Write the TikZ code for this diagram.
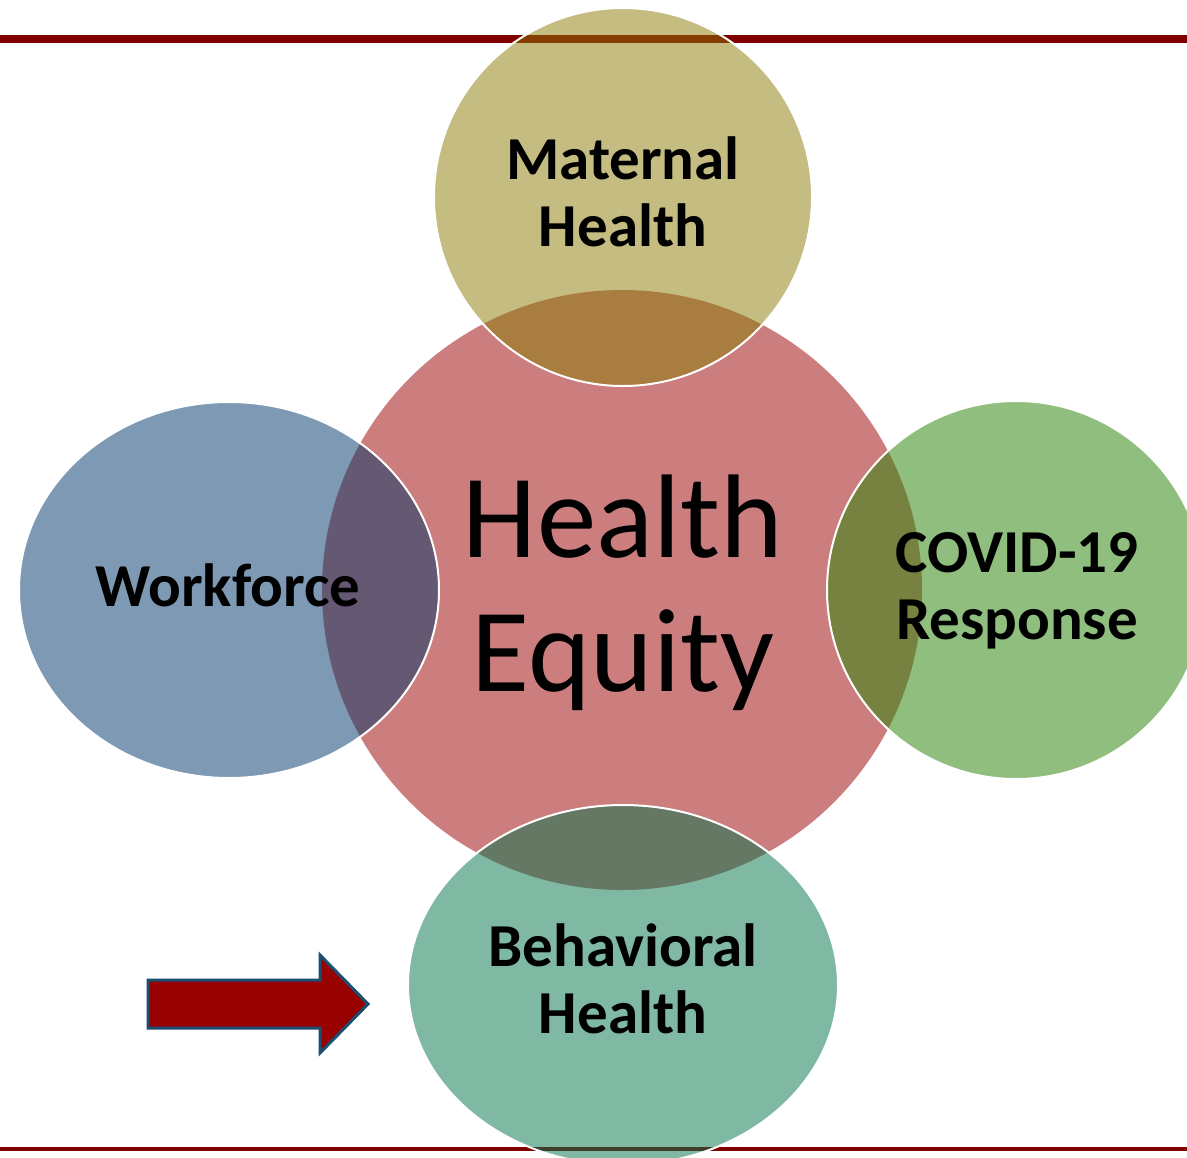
\documentclass[tikz,border=0pt]{standalone}
\usepackage{fontspec}
\setmainfont{Carlito}

\definecolor{rose}{HTML}{CC7E7E}
\definecolor{kaki}{HTML}{C5BC81}
\definecolor{kakirose}{HTML}{A97C40}
\definecolor{kakiligne}{HTML}{843C00}
\definecolor{bleu}{HTML}{7E99B3}
\definecolor{bleurose}{HTML}{655872}
\definecolor{vert}{HTML}{8FBE7E}
\definecolor{vertrose}{HTML}{778140}
\definecolor{menthe}{HTML}{80B9A3}
\definecolor{mentherose}{HTML}{647864}
\definecolor{mentheligne}{HTML}{3E3E2A}
\definecolor{bordeaux}{HTML}{800000}
\definecolor{rouge}{HTML}{990000}
\definecolor{marine}{HTML}{1B4F72}

\tikzstyle{contour} = [draw=white, line width=1pt]
\tikzstyle{theme} = [inner sep=0pt, align=center, text centered, font=\bfseries\fontsize{30.5}{33.5}\selectfont]
\tikzstyle{coeur} = [inner sep=0pt, align=center, text centered, font=\fontsize{59.5}{67}\selectfont]
\tikzstyle{fleche} = [fill=rouge, draw=marine, line width=1.5pt, line join=miter]

\begin{document}
\begin{tikzpicture}[x=0.5pt, y=-0.5pt]

    \clip (0,0) rectangle (1187,1157);

    %  centres
    \coordinate (C) at (622,590);
    \coordinate (M) at (623,197);
    \coordinate (W) at (229,590);
    \coordinate (R) at (1016,590);
    \coordinate (B) at (623,985);

    % lignes
    \fill[bordeaux] (0,35) rectangle (1187,43);
    \fill[bordeaux] (0,1147) rectangle (1187,1151);

    %-------------------------------------------------------------
    \fill[rose] (C) circle [radius=300];

    %-------------------------------------------------------------
    \fill[kaki] (M) circle [radius=189];
    \begin{scope}
      \clip (M) circle [radius=189];
      \fill[kakirose] (C) circle [radius=300];
      \fill[kakiligne] (0,35) rectangle (1187,43);
    \end{scope}
    \draw[contour] (M) circle [radius=189];

    %-------------------------------------------------------------
    \fill[bleu] (W) ellipse [x radius=210, y radius=188];
    \begin{scope}
      \clip (W) ellipse [x radius=210, y radius=188];
      \fill[bleurose] (C) circle [radius=300];
    \end{scope}
    \draw[contour] (W) ellipse [x radius=210, y radius=188];

    %-------------------------------------------------------------
    \fill[vert] (R) circle [radius=189];
    \begin{scope}
      \clip (R) circle [radius=189];
      \fill[vertrose] (C) circle [radius=300];
    \end{scope}
    \draw[contour] (R) circle [radius=189];

    %-------------------------------------------------------------
    \fill[menthe] (B) ellipse [x radius=215, y radius=180];
    \begin{scope}
      \clip (B) ellipse [x radius=215, y radius=180];
      \fill[mentherose] (C) circle [radius=300];
      \fill[mentheligne] (0,1147) rectangle (1187,1151);
    \end{scope}
    \draw[contour] (B) ellipse [x radius=215, y radius=180];

    %  nodes
    \node[coeur] (equite) at (623,593) {Health\\Equity};
    \node[theme] (maternelle) at (623,192) {Maternal\\Health};
    \node[theme] (personnel) at (228,585) {Workforce};
    \node[theme] (covid) at (1017,591) {COVID-19\\Response};
    \node[theme] (comportement) at (623,979) {Behavioral\\Health};

    % fleche
    \draw[fleche] (148,980) -- (320,980) -- (320,955) -- (368,1004) -- (320,1053) -- (320,1028) -- (148,1028) -- cycle;

\end{tikzpicture}
\end{document}
